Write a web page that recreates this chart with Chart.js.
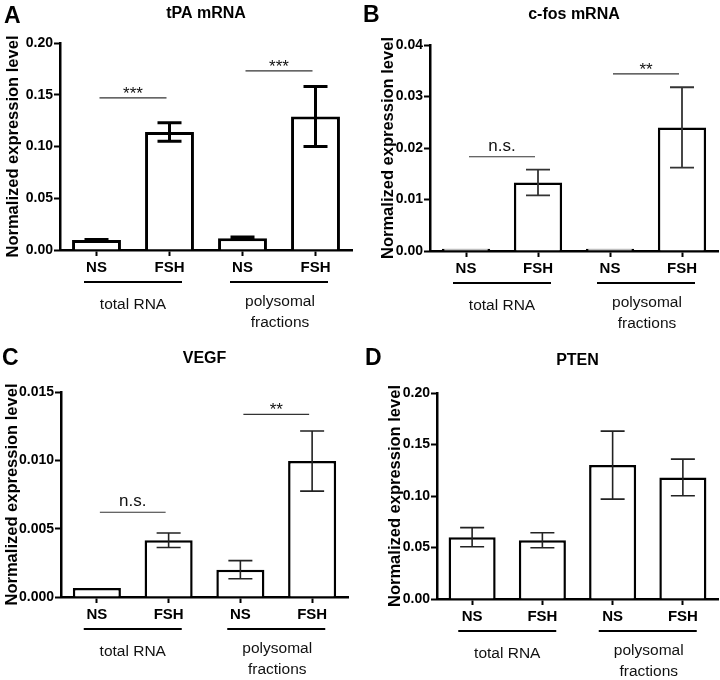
<!DOCTYPE html>
<html>
<head>
<meta charset="utf-8">
<script src="https://cdn.jsdelivr.net/npm/chart.js@4.4.1/dist/chart.umd.min.js"></script>
<style>
  body { margin: 0; background: #fff; }
  #wrap { position: relative; width: 720px; height: 680px; }
  .panel { position: absolute; width: 360px; height: 340px; }
</style>
</head>
<body>
<div id="wrap">
  <div class="panel" style="left:0;top:0"><canvas id="chartA" width="360" height="340"></canvas></div>
  <div class="panel" style="left:360px;top:0"><canvas id="chartB" width="360" height="340"></canvas></div>
  <div class="panel" style="left:0;top:340px"><canvas id="chartC" width="360" height="340"></canvas></div>
  <div class="panel" style="left:360px;top:340px"><canvas id="chartD" width="360" height="340"></canvas></div>
</div>
<script>
// values (mean and error bar half-length)
const categories = ['NS', 'FSH', 'NS', 'FSH'];
const groupNames = [['total RNA'], ['polysomal', 'fractions']];

const tpaMean = [0.0097, 0.114, 0.0113, 0.129];
const tpaErr = [0.0005, 0.009, 0.0012, 0.029];
const tpaSig = [[0, 1, 0.147, '***'], [2, 3, 0.173, '***']];

const cfosMean = [0.00045, 0.0133, 0.00045, 0.024];
const cfosErr = [0, 0.0025, 0, 0.0078];
const cfosSig = [[0, 1, 0.0183, 'n.s.'], [2, 3, 0.0344, '**']];

const vegfMean = [0.00066, 0.00415, 0.002, 0.00995];
const vegfErr = [0, 0.00053, 0.00066, 0.0022];
const vegfSig = [[0, 1, 0.0062, 'n.s.'], [2, 3, 0.01337, '**']];

const ptenMean = [0.060, 0.057, 0.130, 0.118];
const ptenErr = [0.0093, 0.0073, 0.033, 0.0178];
const ptenSig = [];

const FONT = '"Liberation Sans", Arial, sans-serif';

// draws error bars, significance lines, group labels, title and panel letter
const extrasPlugin = {
    id: 'extras',
    afterDatasetsDraw(chart) {
        const o = chart.options.plugins.extras;
        const ctx = chart.ctx;
        const y = chart.scales.y;
        const meta = chart.getDatasetMeta(0);
        ctx.save();
        ctx.strokeStyle = o.errColor;
        ctx.lineWidth = o.errWidth;
        meta.data.forEach((bar, i) => {
            const e = o.err[i];
            if (!e) return;
            const yt = y.getPixelForValue(o.mean[i] + e);
            const yb = y.getPixelForValue(o.mean[i] - e);
            ctx.beginPath();
            ctx.moveTo(bar.x, yt); ctx.lineTo(bar.x, yb);
            ctx.moveTo(bar.x - 12, yt); ctx.lineTo(bar.x + 12, yt);
            ctx.moveTo(bar.x - 12, yb); ctx.lineTo(bar.x + 12, yb);
            ctx.stroke();
        });
        ctx.restore();
    },
    afterDraw(chart) {
        const o = chart.options.plugins.extras;
        const ctx = chart.ctx;
        const x = chart.scales.x, y = chart.scales.y;
        const area = chart.chartArea;
        ctx.save();
        ctx.fillStyle = '#111';
        ctx.textAlign = 'center';

        // significance brackets
        o.sig.forEach(s => {
            const xa = x.getPixelForValue(s[0]) + 3;
            const xb = x.getPixelForValue(s[1]) - 3;
            const yy = y.getPixelForValue(s[2]);
            ctx.strokeStyle = '#333';
            ctx.lineWidth = 1.2;
            ctx.beginPath();
            ctx.moveTo(xa, yy); ctx.lineTo(xb, yy);
            ctx.stroke();
            ctx.textBaseline = 'alphabetic';
            ctx.font = '17px ' + FONT;
            if (s[3] === 'n.s.') {
                ctx.fillText(s[3], (xa + xb) / 2, yy - 6);
            } else {
                ctx.fillText(s[3], (xa + xb) / 2, yy + 1);
            }
        });

        // group underlines and names
        groupNames.forEach((name, g) => {
            const c0 = x.getPixelForValue(g * 2);
            const c1 = x.getPixelForValue(g * 2 + 1);
            const mid = (c0 + c1) / 2;
            ctx.strokeStyle = '#000';
            ctx.lineWidth = 2;
            ctx.beginPath();
            ctx.moveTo(mid - 49, area.bottom + 32);
            ctx.lineTo(mid + 49, area.bottom + 32);
            ctx.stroke();
            ctx.font = '15.5px ' + FONT;
            ctx.textBaseline = 'middle';
            if (name.length === 1) {
                ctx.fillText(name[0], mid, area.bottom + 54.5);
            } else {
                ctx.fillText(name[0], mid + 1, area.bottom + 52);
                ctx.fillText(name[1], mid + 1, area.bottom + 73);
            }
        });

        // title and panel letter
        ctx.fillStyle = '#000';
        ctx.font = 'bold 16px ' + FONT;
        ctx.textBaseline = 'middle';
        ctx.fillText(o.title, (area.left + area.right) / 2, o.titleY);
        ctx.font = 'bold 23px ' + FONT;
        ctx.textAlign = 'left';
        ctx.textBaseline = 'alphabetic';
        ctx.fillText(o.letter, o.letterX, o.letterY);
        ctx.restore();
    }
};

function makePanel(id, p) {
    return new Chart(document.getElementById(id), {
        type: 'bar',
        data: {
            labels: categories,
            datasets: [{
                data: p.mean,
                backgroundColor: '#fff',
                borderColor: '#000',
                borderWidth: p.barBorder,
                borderSkipped: 'start',
                barPercentage: 0.67,
                categoryPercentage: 1
            }]
        },
        options: {
            responsive: false,
            animation: false,
            layout: { padding: { left: 0, top: p.area.top, right: 360 - p.area.right, bottom: 0 } },
            plugins: {
                legend: { display: false },
                tooltip: { enabled: false },
                extras: {
                    mean: p.mean, err: p.err, sig: p.sig,
                    errWidth: p.errWidth, errColor: p.errColor,
                    title: p.title, titleY: p.titleY,
                    letter: p.letter, letterX: p.letterX, letterY: p.letterY
                }
            },
            scales: {
                x: {
                    offset: true,
                    grid: { offset: false, drawOnChartArea: false, tickLength: 6, tickWidth: 2, tickColor: '#000' },
                    border: { color: '#000', width: 2.5 },
                    ticks: { color: '#000', padding: 3, font: { family: FONT, size: 15, weight: 'bold' } },
                    afterFit: s => { s.height = 340 - p.area.bottom; }
                },
                y: {
                    min: 0,
                    max: p.max,
                    grid: { drawOnChartArea: false, tickLength: 6, tickWidth: 2, tickColor: '#000' },
                    border: { color: '#000', width: 2.5 },
                    ticks: {
                        stepSize: p.step,
                        color: '#000',
                        padding: 1,
                        font: { family: FONT, size: 14, weight: 'bold' },
                        callback: v => Number(v).toFixed(p.decimals)
                    },
                    title: {
                        display: true,
                        text: 'Normalized expression level',
                        color: '#000',
                        font: { family: FONT, size: 16.5, weight: 'bold', lineHeight: 1.2 },
                        padding: { top: p.yTitleX - 9.9, bottom: 0 }
                    },
                    afterFit: s => { s.width = p.area.left; }
                }
            }
        },
        plugins: [extrasPlugin]
    });
}

makePanel('chartA', {
    mean: tpaMean, err: tpaErr, sig: tpaSig, max: 0.2, step: 0.05, decimals: 2,
    area: { left: 60, top: 43, right: 352, bottom: 250 },
    barBorder: 3, errWidth: 3, errColor: '#000',
    title: 'tPA mRNA', titleY: 14, letter: 'A', letterX: 4, letterY: 23, yTitleX: 13.5
});
makePanel('chartB', {
    mean: cfosMean, err: cfosErr, sig: cfosSig, max: 0.04, step: 0.01, decimals: 2,
    area: { left: 70, top: 45, right: 358, bottom: 251 },
    barBorder: 2.5, errWidth: 1.8, errColor: '#333',
    title: 'c-fos mRNA', titleY: 14.5, letter: 'B', letterX: 3, letterY: 22, yTitleX: 28
});
makePanel('chartC', {
    mean: vegfMean, err: vegfErr, sig: vegfSig, max: 0.015, step: 0.005, decimals: 3,
    area: { left: 61, top: 52, right: 348, bottom: 257 },
    barBorder: 2.5, errWidth: 1.6, errColor: '#222',
    title: 'VEGF', titleY: 19, letter: 'C', letterX: 2, letterY: 25, yTitleX: 12.5
});
makePanel('chartD', {
    mean: ptenMean, err: ptenErr, sig: ptenSig, max: 0.2, step: 0.05, decimals: 2,
    area: { left: 77, top: 53, right: 358, bottom: 259 },
    barBorder: 2.5, errWidth: 1.6, errColor: '#222',
    title: 'PTEN', titleY: 21, letter: 'D', letterX: 5, letterY: 25, yTitleX: 35
});
</script>
</body>
</html>
